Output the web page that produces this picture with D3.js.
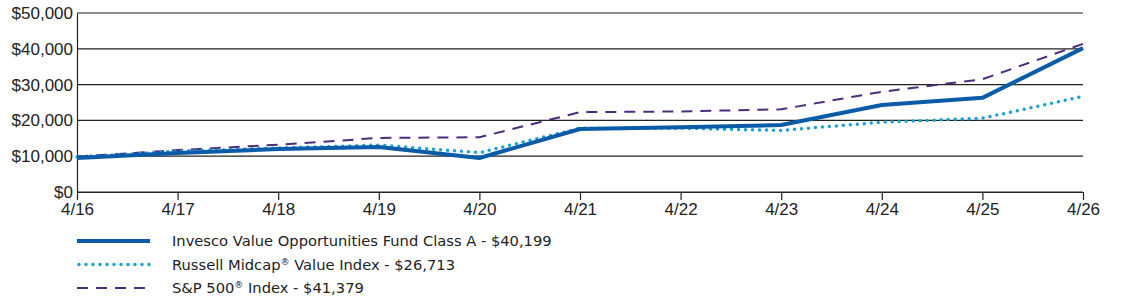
<!DOCTYPE html>
<html>
<head>
<meta charset="utf-8">
<script src="https://cdn.jsdelivr.net/npm/d3@7"></script>
<style>
  body { margin: 0; background: #fff; }
  svg { display: block; font-family: "DejaVu Sans", Verdana, sans-serif; }
</style>
</head>
<body>
<div id="chart"></div>
<script>
const width = 1123, height = 304;
const margin = { top: 13, right: 40, bottom: 112, left: 77 };
const innerWidth = width - margin.left - margin.right;
const innerHeight = height - margin.top - margin.bottom;

// Data
const dates = ["4/16", "4/17", "4/18", "4/19", "4/20", "4/21", "4/22", "4/23", "4/24", "4/25", "4/26"];
const invesco = [9500, 10900, 12000, 12600, 9500, 17600, 18100, 18700, 24300, 26300, 40199];
const russell = [9800, 11400, 12300, 13100, 11000, 17800, 17800, 17200, 19500, 20600, 26713];
const sp500 = [9900, 11700, 13200, 15100, 15300, 22300, 22500, 23100, 28000, 31500, 41379];
const yTicks = [0, 10000, 20000, 30000, 40000, 50000];

const series = [
  { name: "Invesco Value Opportunities Fund Class A - $40,199", values: invesco, color: "#0a5ca8", width: 4, dash: null, cap: "butt" },
  { name: "Russell Midcap", sup: "®", rest: " Value Index - $26,713", values: russell, color: "#1c9fd8", width: 3.5, dash: "0,7", cap: "round" },
  { name: "S&P 500", sup: "®", rest: " Index - $41,379", values: sp500, color: "#4b2c7d", width: 2, dash: "11,8", cap: "butt" }
];

const svg = d3.select("#chart")
  .append("svg")
    .attr("width", width)
    .attr("height", height);

const innerChart = svg
  .append("g")
    .attr("transform", `translate(${margin.left}, ${margin.top})`);

// Scales
const xScale = d3.scalePoint()
  .domain(dates)
  .range([0, innerWidth]);

const yScale = d3.scaleLinear()
  .domain([0, 50000])
  .range([innerHeight, 0]);

// Gridlines
innerChart.selectAll(".grid")
  .data(yTicks)
  .join("line")
    .attr("class", "grid")
    .attr("x1", 0)
    .attr("x2", innerWidth)
    .attr("y1", d => yScale(d))
    .attr("y2", d => yScale(d))
    .attr("stroke", "#222")
    .attr("stroke-width", 1.2);

// Y axis
const leftAxis = d3.axisLeft(yScale)
  .tickValues(yTicks)
  .tickSize(0)
  .tickPadding(4)
  .tickFormat(d => "$" + d3.format(",")(d));
const yAxis = innerChart.append("g").call(leftAxis);
yAxis.select(".domain").attr("stroke", "#222").attr("stroke-width", 1.2);
yAxis.selectAll("text").attr("font-size", "17px").attr("fill", "#222");

// X axis
const bottomAxis = d3.axisBottom(xScale)
  .tickSize(8)
  .tickPadding(3)
  .tickSizeOuter(0);
const xAxis = innerChart.append("g")
  .attr("transform", `translate(0, ${innerHeight})`)
  .call(bottomAxis);
xAxis.select(".domain").attr("stroke", "#222").attr("stroke-width", 1.2);
xAxis.selectAll(".tick line").attr("stroke", "#222").attr("stroke-width", 1.2);
xAxis.selectAll("text").attr("font-size", "17px").attr("fill", "#222");

// Lines
const line = d3.line()
  .x((d, i) => xScale(dates[i]))
  .y(d => yScale(d));

[series[2], series[1], series[0]].forEach(s => {
  innerChart.append("path")
    .attr("d", line(s.values))
    .attr("fill", "none")
    .attr("stroke", s.color)
    .attr("stroke-width", s.width)
    .attr("stroke-dasharray", s.dash)
    .attr("stroke-linecap", s.cap)
    .attr("stroke-linejoin", "round");
});

// Legend
const legend = svg.append("g")
  .attr("transform", `translate(${margin.left}, 241)`);

series.forEach((s, i) => {
  const g = legend.append("g").attr("transform", `translate(0, ${i * 23.5})`);
  g.append("line")
    .attr("x1", s.cap === "round" ? 2 : 0)
    .attr("x2", 73)
    .attr("y1", 0)
    .attr("y2", 0)
    .attr("stroke", s.color)
    .attr("stroke-width", s.width)
    .attr("stroke-dasharray", s.dash)
    .attr("stroke-linecap", s.cap);
  const t = g.append("text")
    .attr("x", 95)
    .attr("y", 5)
    .attr("font-size", "14.7px")
    .attr("fill", "#222");
  t.append("tspan").text(s.name);
  if (s.sup) {
    t.append("tspan").text(s.sup).attr("font-size", "9px").attr("dy", -5);
    t.append("tspan").text(s.rest).attr("dy", 5);
  }
});
</script>
</body>
</html>
